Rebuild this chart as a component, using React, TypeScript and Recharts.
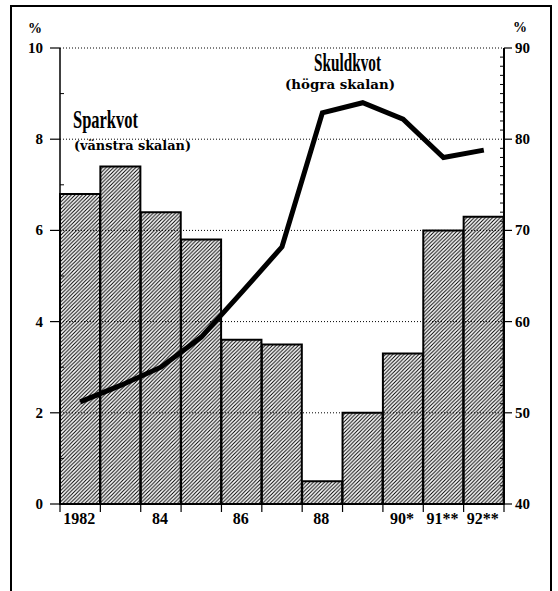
import React from 'react';
import { ComposedChart, Bar, Line, XAxis, YAxis, ReferenceLine } from 'recharts';

const years = ['1982', '1983', '1984', '1985', '1986', '1987', '1988', '1989', '1990', '1991', '1992'];
const yearLabels = ['1982', '', '84', '', '86', '', '88', '', '90*', '91**', '92**'];
const sparkvot = [6.8, 7.4, 6.4, 5.8, 3.6, 3.5, 0.5, 2.0, 3.3, 6.0, 6.3];
const skuldkvot = [51.2, 53.0, 55.0, 58.3, 63.2, 68.2, 82.9, 84.0, 82.2, 78.0, 78.8];
const leftTicks = [0, 1, 2, 3, 4, 5, 6, 7, 8, 9, 10];
const leftGrid = [2, 4, 6, 8, 10];
const rightTicks = Array.from({ length: 51 }, (_, i) => 40 + i);

const data = years.map((y, i) => ({ year: y, spar: sparkvot[i], skuld: skuldkvot[i] }));

const W = 558;
const H = 591;
const LEFT_W = 60;
const RIGHT_W = 54;
const TOP = 48;
const X_H = 30;
const BOTTOM = 57;
const PLOT_W = W - LEFT_W - RIGHT_W;
const FONT = '"Liberation Serif", "Times New Roman", serif';
const WIDE = '"DejaVu Serif", serif';

const LeftTick = (props: any) => {
  const { x, y, payload } = props;
  const v = payload.value;
  if (v % 2 === 0) {
    return (
      <g>
        <line x1={x - 10} x2={x} y1={y} y2={y} stroke="#000" strokeWidth={1.2} />
        <text x={x - 17} y={y} textAnchor="end" dominantBaseline="central" fontFamily={FONT} fontWeight="bold" fontSize={15} fill="#000">
          {v}
        </text>
      </g>
    );
  }
  return <line x1={x} x2={x + 4} y1={y} y2={y} stroke="#000" strokeWidth={1} />;
};

const RightTick = (props: any) => {
  const { x, y, payload } = props;
  const v = payload.value;
  if (v % 10 === 0) {
    return (
      <g>
        <line x1={x} x2={x + 8} y1={y} y2={y} stroke="#000" strokeWidth={1.2} />
        <text x={x + 11} y={y} textAnchor="start" dominantBaseline="central" fontFamily={FONT} fontWeight="bold" fontSize={15} fill="#000">
          {v}
        </text>
      </g>
    );
  }
  return <line x1={x - 4} x2={x} y1={y} y2={y} stroke="#000" strokeWidth={1} />;
};

const XTick = (props: any) => {
  const { x, y, index } = props;
  const bw = PLOT_W / years.length;
  const label = yearLabels[index] ?? '';
  return (
    <g>
      <line x1={x - bw / 2} x2={x - bw / 2} y1={y} y2={y + 8} stroke="#000" strokeWidth={1.2} />
      {index === years.length - 1 && (
        <line x1={x + bw / 2} x2={x + bw / 2} y1={y} y2={y + 8} stroke="#000" strokeWidth={1.2} />
      )}
      <text x={x - 1} y={y + 20} textAnchor="middle" fontFamily={FONT} fontWeight="bold" fontSize={16} fill="#000">
        {label}
      </text>
    </g>
  );
};

export default function App() {
  return (
    <div style={{ position: 'absolute', left: 0, top: 0, width: W, height: H, background: '#fff', overflow: 'hidden' }}>
      <svg width={0} height={0} style={{ position: 'absolute' }}>
        <defs>
          <pattern id="hatch" patternUnits="userSpaceOnUse" width={3.7} height={3.7}>
            <path d="M0,3.7 L3.7,0 M-1,1 L1,-1 M2.7,4.7 L4.7,2.7" stroke="#000" strokeWidth={1.0} />
          </pattern>
        </defs>
      </svg>
      <ComposedChart
        width={W}
        height={H}
        data={data}
        margin={{ top: TOP, right: 0, bottom: BOTTOM, left: 0 }}
        barCategoryGap={0}
      >
        <XAxis
          dataKey="year"
          xAxisId="x"
          height={X_H}
          interval={0}
          tickSize={0}
          tickMargin={0}
          tickLine={false}
          axisLine={{ stroke: '#000', strokeWidth: 1.2 }}
          tick={<XTick />}
        />
        <YAxis
          yAxisId="left"
          width={LEFT_W}
          domain={[0, 10]}
          ticks={leftTicks}
          interval={0}
          tickSize={0}
          tickMargin={0}
          tickLine={false}
          axisLine={{ stroke: '#000', strokeWidth: 1.5 }}
          tick={<LeftTick />}
        />
        <YAxis
          yAxisId="right"
          orientation="right"
          width={RIGHT_W}
          domain={[40, 90]}
          ticks={rightTicks}
          interval={0}
          tickSize={0}
          tickMargin={0}
          tickLine={false}
          axisLine={{ stroke: '#000', strokeWidth: 2 }}
          tick={<RightTick />}
        />
        {leftGrid.map((v) => (
          <ReferenceLine key={v} yAxisId="left" xAxisId="x" y={v} stroke="#000" strokeWidth={1} strokeDasharray="1 2" />
        ))}
        <Bar dataKey="spar" xAxisId="x" yAxisId="left" fill="url(#hatch)" stroke="#000" strokeWidth={2} isAnimationActive={false} />
        <Line dataKey="skuld" xAxisId="x" yAxisId="right" type="linear" stroke="#000" strokeWidth={5} dot={false} isAnimationActive={false} />
      </ComposedChart>
      <svg width={W} height={H} style={{ position: 'absolute', left: 0, top: 0, pointerEvents: 'none' }}>
        <rect x={11} y={6} width={540} height={640} fill="none" stroke="#000" strokeWidth={2} />
        <text x={35} y={33} textAnchor="middle" fontFamily={FONT} fontWeight="bold" fontSize={14} fill="#000">%</text>
        <text x={520} y={32} textAnchor="middle" fontFamily={FONT} fontWeight="bold" fontSize={14} fill="#000">%</text>
        <text x={73} y={128} fontFamily={FONT} fontWeight="bold" fontSize={25} textLength={65} lengthAdjust="spacingAndGlyphs" fill="#000">Sparkvot</text>
        <text x={74} y={150} fontFamily={WIDE} fontWeight="bold" fontSize={12.5} textLength={117} lengthAdjust="spacingAndGlyphs" fill="#000">(vänstra  skalan)</text>
        <text x={314} y={71} fontFamily={FONT} fontWeight="bold" fontSize={26} textLength={67} lengthAdjust="spacingAndGlyphs" fill="#000">Skuldkvot</text>
        <text x={285} y={89} fontFamily={WIDE} fontWeight="bold" fontSize={12.5} textLength={110} lengthAdjust="spacingAndGlyphs" fill="#000">(högra  skalan)</text>
      </svg>
    </div>
  );
}
